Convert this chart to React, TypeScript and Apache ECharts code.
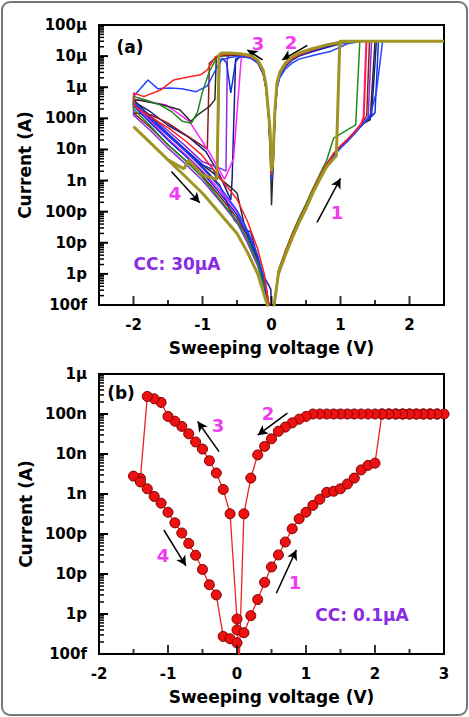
import React, { useEffect, useRef } from "react";
import * as echarts from "echarts";

// ---------- Panel (a): CC = 30 µA, ten I-V sweep cycles ([voltage V, current A]) ----------
const curveNavy: [number, number][] = [
  [0.02, 5e-14], [0.1, 9.5e-13], [0.2, 4e-12], [0.3, 1.45e-11], [0.4, 4.6e-11], [0.5, 1.25e-10], [0.6, 4.1e-10], [0.7, 1.15e-9], [0.8, 2.9e-9], [0.9, 6.5e-9], [1.0, 1.15e-8], [1.1, 1.85e-8], [1.2, 3.2e-8], [1.3, 5.8e-8], [1.45, 1.2e-7], [1.52, 3e-5], [2.5, 3e-5],
  [1.25, 3e-5], [1.0, 2.5e-5], [0.8, 1.9e-5], [0.6, 1.4e-5], [0.4, 1e-5], [0.3, 7.5e-6], [0.2, 4.6e-6], [0.12, 2.3e-6], [0.08, 1e-6], [0.05, 1.3e-7], [0.02, 2.5e-9], [0.0, 1e-9],
  [-0.02, 1.6e-8], [-0.04, 1e-7], [-0.08, 9.5e-7], [-0.12, 2.8e-6], [-0.2, 6.2e-6], [-0.3, 8.8e-6], [-0.45, 9.5e-6], [-0.52, 8e-6], [-0.57, 1.2e-9], [-0.59, 2.4e-10], [-0.75, 1.5e-9], [-0.95, 8.5e-9], [-1.2, 2.5e-8], [-1.5, 6e-8], [-1.75, 1.6e-7], [-2.0, 3.5e-7],
  [-2.0, 3.2e-7], [-1.75, 9e-8], [-1.5, 2.8e-8], [-1.25, 9e-9], [-1.0, 2.8e-9], [-0.75, 7e-10], [-0.54, 5.4e-11], [-0.45, 3.3e-11], [-0.3, 2.2e-11], [-0.15, 1.26e-12], [-0.01, 3.2e-13], [0.0, 6e-14],
];
const curveMaroon: [number, number][] = [
  [0.02, 5e-14], [0.1, 1.1e-12], [0.2, 4.6e-12], [0.3, 1.65e-11], [0.4, 5.2e-11], [0.5, 1.42e-10], [0.6, 4.6e-10], [0.7, 1.3e-9], [0.8, 3.3e-9], [0.9, 7.2e-9], [1.0, 1.28e-8], [1.1, 2.05e-8], [1.2, 3.5e-8], [1.3, 6.5e-8], [1.38, 1.2e-7], [1.42, 3e-5], [2.5, 3e-5],
  [1.2, 3e-5], [1.0, 2.8e-5], [0.8, 2.25e-5], [0.6, 1.7e-5], [0.4, 1.17e-5], [0.3, 8.6e-6], [0.2, 5.4e-6], [0.12, 2.7e-6], [0.08, 1.2e-6], [0.05, 1.5e-7], [0.02, 3e-9], [0.0, 1.4e-9],
  [-0.02, 2e-8], [-0.04, 1.2e-7], [-0.08, 1.05e-6], [-0.12, 3.1e-6], [-0.2, 6.9e-6], [-0.3, 9.7e-6], [-0.45, 1.12e-5], [-0.6, 1.15e-5], [-0.72, 1.1e-5], [-0.8, 9e-6], [-0.9, 6e-6], [-0.93, 1e-8], [-1.0, 1.3e-8], [-1.25, 3e-8], [-1.5, 7e-8], [-1.75, 1.3e-7], [-2.0, 1.5e-7],
  [-1.75, 5e-8], [-1.5, 1.4e-8], [-1.25, 4.5e-9], [-1.0, 1.4e-9], [-0.75, 3.2e-10], [-0.5, 6.3e-11], [-0.35, 1.6e-11], [-0.2, 2.5e-12], [-0.1, 4e-13], [-0.03, 7e-14],
];
const curvePurple: [number, number][] = [
  [0.02, 5e-14], [0.1, 1e-12], [0.2, 4.2e-12], [0.3, 1.5e-11], [0.4, 4.8e-11], [0.5, 1.3e-10], [0.6, 4.2e-10], [0.7, 1.2e-9], [0.8, 3e-9], [0.9, 6.6e-9], [1.0, 1.2e-8], [1.1, 1.9e-8], [1.2, 3.3e-8], [1.3, 6e-8], [1.4, 1e-7], [1.45, 3e-5], [2.5, 3e-5],
  [1.2, 3e-5], [1.0, 2.75e-5], [0.8, 2.25e-5], [0.6, 1.7e-5], [0.4, 1.2e-5], [0.3, 8.9e-6], [0.2, 5.6e-6], [0.12, 2.8e-6], [0.08, 1.26e-6], [0.05, 1.6e-7], [0.02, 3.2e-9], [0.0, 1.6e-9],
  [-0.02, 2e-8], [-0.04, 1.26e-7], [-0.08, 1.1e-6], [-0.12, 3.2e-6], [-0.2, 7e-6], [-0.3, 1e-5], [-0.45, 1.17e-5], [-0.6, 1.15e-5], [-0.64, 9e-6], [-0.66, 2e-9], [-0.75, 2.5e-9], [-1.0, 4e-9], [-1.25, 1.3e-8], [-1.5, 4e-8], [-1.75, 1.2e-7], [-2.0, 2.8e-7],
  [-2.0, 1.26e-7], [-1.75, 4e-8], [-1.5, 1.1e-8], [-1.25, 3.5e-9], [-1.0, 1e-9], [-0.75, 2.2e-10], [-0.5, 4.5e-11], [-0.35, 1e-11], [-0.2, 1.8e-12], [-0.1, 3.2e-13], [-0.03, 7e-14],
];
const curveMagenta: [number, number][] = [
  [0.02, 5e-14], [0.1, 1.15e-12], [0.2, 4.8e-12], [0.3, 1.7e-11], [0.4, 5.3e-11], [0.5, 1.45e-10], [0.6, 4.8e-10], [0.7, 1.35e-9], [0.8, 3.4e-9], [0.9, 7.3e-9], [1.0, 1.3e-8], [1.1, 2.1e-8], [1.2, 3.6e-8], [1.3, 7e-8], [1.33, 1.1e-7], [1.37, 3e-5], [2.5, 3e-5],
  [1.1, 3e-5], [1.0, 2.9e-5], [0.8, 2.35e-5], [0.6, 1.7e-5], [0.4, 1.2e-5], [0.3, 8.8e-6], [0.2, 5.5e-6], [0.12, 2.8e-6], [0.08, 1.25e-6], [0.05, 1.6e-7], [0.02, 3.2e-9], [0.0, 1.6e-9],
  [-0.02, 2e-8], [-0.04, 1.2e-7], [-0.08, 1.1e-6], [-0.12, 3.2e-6], [-0.2, 7e-6], [-0.3, 1e-5], [-0.4, 1.1e-5], [-0.44, 8e-6], [-0.55, 5e-9], [-0.68, 1.1e-9], [-0.9, 8e-9], [-1.19, 8e-8], [-1.53, 2.7e-7], [-1.91, 3.9e-7], [-2.0, 4e-7],
  [-2.0, 2.8e-7], [-1.75, 8e-8], [-1.5, 2.2e-8], [-1.25, 7e-9], [-1.0, 2e-9], [-0.75, 5e-10], [-0.5, 1e-10], [-0.35, 2.2e-11], [-0.2, 3.5e-12], [-0.1, 5e-13], [-0.03, 8e-14],
];
const curveBlack: [number, number][] = [
  [0.02, 6e-14], [0.1, 1.1e-12], [0.2, 4.5e-12], [0.3, 1.6e-11], [0.4, 5e-11], [0.5, 1.4e-10], [0.6, 4.5e-10], [0.7, 1.3e-9], [0.8, 3.2e-9], [0.9, 7e-9], [1.0, 1.26e-8], [1.1, 2e-8], [1.2, 3.5e-8], [1.3, 6.3e-8], [1.43, 9e-8], [1.5, 3e-5], [2.5, 3e-5],
  [1.2, 3e-5], [1.0, 2.65e-5], [0.8, 2.1e-5], [0.6, 1.55e-5], [0.4, 1.1e-5], [0.3, 8e-6], [0.2, 5e-6], [0.12, 2.5e-6], [0.08, 1.1e-6], [0.05, 1.3e-7], [0.02, 2e-9], [0.0, 1.6e-10],
  [-0.01, 2e-9], [-0.04, 1.1e-7], [-0.08, 1e-6], [-0.12, 2.9e-6], [-0.2, 6.6e-6], [-0.3, 9.2e-6], [-0.45, 1.05e-5], [-0.6, 1.05e-5], [-0.72, 1e-5], [-0.8, 9e-6], [-0.82, 4e-7], [-0.9, 2.4e-7], [-1.05, 1.4e-7], [-1.17, 8e-8], [-1.33, 1.9e-7], [-1.6, 2.8e-7], [-1.85, 3.6e-7], [-2.0, 4e-7],
  [-1.75, 1.1e-7], [-1.5, 3.2e-8], [-1.25, 1e-8], [-1.0, 3.2e-9], [-0.84, 1.7e-9], [-0.6, 6.3e-10], [-0.5, 4e-10], [-0.4, 4.4e-11], [-0.3, 1.26e-11], [-0.2, 3.2e-12], [-0.1, 5e-13], [-0.03, 8e-14],
];
const curveBlueB: [number, number][] = [
  [0.02, 5e-14], [0.1, 1.05e-12], [0.2, 4.2e-12], [0.3, 1.5e-11], [0.4, 4.7e-11], [0.5, 1.3e-10], [0.6, 4.2e-10], [0.7, 1.2e-9], [0.8, 3e-9], [0.9, 6.6e-9], [1.0, 1.2e-8], [1.1, 1.9e-8], [1.2, 3.3e-8], [1.3, 6e-8], [1.4, 9e-8], [1.5, 1.5e-7], [1.55, 3e-5], [2.5, 3e-5],
  [1.2, 3e-5], [1.0, 2.6e-5], [0.8, 2e-5], [0.6, 1.5e-5], [0.4, 1.05e-5], [0.3, 7.8e-6], [0.2, 4.8e-6], [0.12, 2.4e-6], [0.08, 1.1e-6], [0.05, 1.4e-7], [0.02, 2.5e-9], [0.0, 1.2e-9],
  [-0.02, 1.8e-8], [-0.04, 1.1e-7], [-0.08, 1e-6], [-0.12, 2.8e-6], [-0.2, 6.4e-6], [-0.3, 9e-6], [-0.45, 1.05e-5], [-0.52, 6.6e-6], [-0.59, 6.6e-7], [-0.65, 6e-6], [-0.71, 8.5e-6], [-0.75, 7e-6], [-0.79, 1.05e-9], [-0.84, 2.2e-9], [-1.0, 3.2e-9], [-1.25, 1e-8], [-1.5, 3.2e-8], [-1.75, 1e-7], [-2.0, 3.2e-7],
  [-2.0, 2.5e-7], [-1.75, 7e-8], [-1.5, 2e-8], [-1.25, 6.3e-9], [-1.0, 1.8e-9], [-0.75, 4e-10], [-0.5, 8e-11], [-0.35, 1.8e-11], [-0.2, 2.8e-12], [-0.1, 4.5e-13], [-0.03, 7e-14],
];
const curveBlueA: [number, number][] = [
  [0.02, 4e-14], [0.1, 9e-13], [0.2, 3.8e-12], [0.3, 1.4e-11], [0.4, 4.3e-11], [0.5, 1.2e-10], [0.6, 3.9e-10], [0.7, 1.1e-9], [0.8, 2.8e-9], [0.9, 6.3e-9], [1.0, 1.1e-8], [1.1, 1.8e-8], [1.2, 3.2e-8], [1.3, 5.6e-8], [1.43, 1.26e-7], [1.52, 7e-7], [1.61, 3e-5], [2.5, 3e-5],
  [1.3, 3e-5], [1.1, 2.5e-5], [0.85, 1.4e-5], [0.6, 1.05e-5], [0.4, 8e-6], [0.3, 6e-6], [0.2, 3.8e-6], [0.12, 2e-6], [0.08, 9e-7], [0.05, 1.2e-7], [0.02, 2e-9], [0.0, 1e-9],
  [-0.02, 1.5e-8], [-0.04, 1e-7], [-0.08, 9e-7], [-0.12, 2.6e-6], [-0.2, 6e-6], [-0.3, 8.5e-6], [-0.45, 1e-5], [-0.6, 9e-6], [-0.72, 7.6e-6], [-0.8, 4e-6], [-0.93, 1.1e-6], [-1.09, 7.2e-7], [-1.3, 9e-7], [-1.48, 9.5e-7], [-1.65, 9e-7], [-1.79, 1.7e-6], [-2.0, 5e-7],
  [-2.0, 3.5e-7], [-1.75, 1e-7], [-1.5, 2.8e-8], [-1.25, 8.9e-9], [-1.0, 2.5e-9], [-0.75, 6.3e-10], [-0.5, 1.1e-10], [-0.35, 2.5e-11], [-0.2, 4e-12], [-0.1, 6.3e-13], [-0.03, 8e-14],
];
const curveGreen: [number, number][] = [
  [0.02, 5e-14], [0.1, 1.3e-12], [0.2, 5.5e-12], [0.3, 2e-11], [0.4, 6.3e-11], [0.5, 1.8e-10], [0.6, 5.6e-10], [0.7, 1.6e-9], [0.8, 4.5e-9], [0.9, 2.3e-8], [1.22, 6.2e-8], [1.28, 3e-5], [2.5, 3e-5],
  [1.15, 3e-5], [1.0, 2.7e-5], [0.8, 2.2e-5], [0.6, 1.65e-5], [0.4, 1.15e-5], [0.3, 8.5e-6], [0.2, 5.4e-6], [0.12, 2.7e-6], [0.08, 1.2e-6], [0.05, 1.5e-7], [0.02, 3e-9], [0.0, 1.5e-9],
  [-0.02, 2e-8], [-0.04, 1.2e-7], [-0.08, 1.1e-6], [-0.12, 3.1e-6], [-0.2, 7e-6], [-0.3, 1e-5], [-0.45, 1.15e-5], [-0.6, 1.2e-5], [-0.72, 1.26e-5], [-0.8, 8.5e-6], [-0.9, 3.2e-6], [-1.0, 7.2e-7], [-1.07, 1.66e-7], [-1.16, 7e-8], [-1.29, 8e-8], [-1.45, 1.66e-7], [-1.62, 2.7e-7], [-1.82, 3.9e-7], [-2.0, 5e-7],
  [-2.0, 2e-7], [-1.75, 5.6e-8], [-1.5, 1.4e-8], [-1.25, 4.5e-9], [-1.0, 1.26e-9], [-0.75, 2.5e-10], [-0.5, 5e-11], [-0.35, 1.26e-11], [-0.2, 2.2e-12], [-0.11, 4e-13], [-0.08, 4e-13], [-0.03, 7e-14],
];
const curveRed: [number, number][] = [
  [0.02, 5e-14], [0.1, 1.2e-12], [0.2, 5e-12], [0.3, 1.8e-11], [0.4, 5.5e-11], [0.5, 1.5e-10], [0.6, 5e-10], [0.7, 1.4e-9], [0.8, 3.5e-9], [0.9, 7.5e-9], [1.0, 1.3e-8], [1.1, 2.1e-8], [1.2, 3.6e-8], [1.3, 6.5e-8], [1.34, 1.1e-7], [1.38, 3e-5], [2.5, 3e-5],
  [1.15, 3e-5], [1.0, 2.7e-5], [0.8, 2.2e-5], [0.6, 1.6e-5], [0.4, 1.1e-5], [0.3, 8.3e-6], [0.2, 5.2e-6], [0.12, 2.6e-6], [0.08, 1.2e-6], [0.05, 1.5e-7], [0.02, 3e-9], [0.0, 1.5e-9],
  [-0.02, 2e-8], [-0.04, 1.2e-7], [-0.08, 1.05e-6], [-0.12, 3e-6], [-0.2, 6.8e-6], [-0.3, 9.5e-6], [-0.45, 1.1e-5], [-0.6, 1.15e-5], [-0.7, 1.1e-5], [-0.81, 9.8e-6], [-0.93, 3.6e-6], [-1.03, 2.5e-6], [-1.17, 2.2e-6], [-1.42, 1.7e-6], [-1.61, 8.1e-7], [-1.85, 5e-7], [-2.0, 6.5e-7],
  [-1.98, 2.4e-7], [-1.75, 1.1e-7], [-1.5, 5e-8], [-1.25, 1.9e-8], [-1.0, 6.3e-9], [-0.75, 1.26e-9], [-0.5, 2.5e-10], [-0.35, 5e-11], [-0.2, 6.3e-12], [-0.1, 9e-13], [-0.03, 8e-14],
];
const curveOlive: [number, number][] = [
  [0.02, 5e-14], [0.1, 1e-12], [0.2, 4e-12], [0.3, 1.4e-11], [0.4, 4.5e-11], [0.5, 1.26e-10], [0.6, 4e-10], [0.7, 1.1e-9], [0.8, 2.8e-9], [0.9, 5e-9], [0.94, 6.3e-9], [0.99, 3e-5], [2.5, 3e-5],
  [1.2, 3e-5], [1.0, 2.8e-5], [0.8, 2.3e-5], [0.6, 1.75e-5], [0.4, 1.26e-5], [0.3, 9.5e-6], [0.2, 6e-6], [0.12, 3e-6], [0.08, 1.4e-6], [0.05, 2e-7], [0.02, 4e-9], [0.0, 2e-9],
  [-0.02, 4e-8], [-0.04, 1.3e-7], [-0.08, 1.2e-6], [-0.12, 3.5e-6], [-0.2, 7.5e-6], [-0.3, 1.05e-5], [-0.45, 1.2e-5], [-0.6, 1.26e-5], [-0.72, 1.26e-5], [-0.76, 1.1e-5],
  [-0.79, 1.1e-9], [-1.0, 1.5e-9], [-1.2, 4.5e-9], [-1.27, 2.4e-9], [-1.5, 4.6e-9], [-1.75, 1.6e-8], [-2.0, 5.4e-8],
  [-1.75, 1.6e-8], [-1.5, 4.6e-9], [-1.25, 1.35e-9], [-1.0, 3.9e-10], [-0.75, 8.9e-11], [-0.5, 2e-11], [-0.35, 5e-12], [-0.2, 1e-12], [-0.1, 1.9e-13], [-0.03, 6e-14],
];

const curvesA = [
  { name: "cycle navy", color: "#1c1c8c", width: 1.5, data: curveNavy },
  { name: "cycle maroon", color: "#8b1c1c", width: 1.5, data: curveMaroon },
  { name: "cycle purple", color: "#8a2be2", width: 1.5, data: curvePurple },
  { name: "cycle magenta", color: "#ff22ff", width: 1.5, data: curveMagenta },
  { name: "cycle black", color: "#2a2a2a", width: 1.5, data: curveBlack },
  { name: "cycle blue 2", color: "#1030e0", width: 1.5, data: curveBlueB },
  { name: "cycle blue", color: "#2244ff", width: 1.5, data: curveBlueA },
  { name: "cycle green", color: "#1f8c1f", width: 1.5, data: curveGreen },
  { name: "cycle red", color: "#ff2020", width: 1.5, data: curveRed },
  { name: "cycle olive", color: "#a09422", width: 3, data: curveOlive },
];

// ---------- Panel (b): CC = 0.1 µA, single cycle ----------
const bVoltage = [
  0.0, 0.1, 0.2, 0.3, 0.4, 0.5, 0.6, 0.7, 0.8, 0.9, 1.0, 1.1, 1.2, 1.3, 1.4, 1.5, 1.6, 1.7, 1.8, 1.9, 2.0, 2.1, 2.2, 2.3, 2.4, 2.5, 2.6, 2.7, 2.8, 2.9, 3.0,
  2.9, 2.8, 2.7, 2.6, 2.5, 2.4, 2.3, 2.2, 2.1, 2.0, 1.9, 1.8, 1.7, 1.6, 1.5, 1.4, 1.3, 1.2, 1.1, 1.0, 0.9, 0.8, 0.7, 0.6, 0.5, 0.4, 0.3, 0.2, 0.1, 0.03,
  0.0, -0.1, -0.2, -0.3, -0.4, -0.5, -0.6, -0.7, -0.8, -0.9, -1.0, -1.1, -1.2, -1.3, -1.4, -1.5,
  -1.4, -1.3, -1.2, -1.1, -1.0, -0.9, -0.8, -0.7, -0.6, -0.5, -0.4, -0.3, -0.2, -0.1, 0.0,
];
const bCurrent = [
  4.0e-13, 3.4e-13, 9.1e-13, 2.3e-12, 6.2e-12, 1.5e-11, 3.0e-11, 6.3e-11, 1.35e-10, 2.4e-10, 3.5e-10, 5.2e-10, 7.4e-10, 1.1e-9, 1.17e-9, 1.35e-9, 1.78e-9, 2.5e-9, 4.0e-9, 5.2e-9, 5.9e-9, 1e-7, 1e-7, 1e-7, 1e-7, 1e-7, 1e-7, 1e-7, 1e-7, 1e-7, 1e-7,
  1e-7, 1e-7, 1e-7, 1e-7, 1e-7, 1e-7, 1e-7, 1e-7, 1e-7, 1e-7, 1e-7, 1e-7, 1e-7, 1e-7, 1e-7, 1e-7, 1e-7, 1e-7, 1e-7, 8.7e-8, 7.4e-8, 6.0e-8, 4.7e-8, 3.7e-8, 2.4e-8, 1.55e-8, 9.5e-9, 2.5e-9, 3.2e-10, 5e-14,
  7.5e-13, 3.2e-10, 1.3e-9, 3.35e-9, 6.8e-9, 1.33e-8, 2.0e-8, 3.2e-8, 4.9e-8, 6.6e-8, 8.7e-8, 1.95e-7, 2.4e-7, 2.75e-7, 2.45e-9, 2.8e-9,
  2.0e-9, 1.35e-9, 8.7e-10, 5.9e-10, 3.5e-10, 1.9e-10, 1.06e-10, 5.8e-11, 2.95e-11, 1.3e-11, 5.4e-12, 3.0e-12, 2.75e-13, 2.4e-13, 1.9e-13,
];

// sweep-direction arrows [V start, I start, V end, I end]
const arrowsA: [number, number, number, number][] = [
  [-0.13, 7.6e-6, -0.35, 1.58e-5],
  [0.52, 2.2e-5, 0.155, 7.6e-6],
  [-1.45, 1.95e-9, -1.04, 1.95e-10],
  [0.66, 4.5e-11, 1.0, 1.17e-9],
];
const arrowsB: [number, number, number, number][] = [
  [0.73, 1.05e-7, 0.3, 2.95e-8],
  [-0.26, 1.15e-8, -0.57, 6.5e-8],
  [-1.06, 1.26e-10, -0.74, 1.6e-11],
  [0.57, 3.3e-12, 0.86, 4e-11],
];

const currentTickLabels: Record<string, string> = {
  "-13": "100f", "-12": "1p", "-11": "10p", "-10": "100p", "-9": "1n",
  "-8": "10n", "-7": "100n", "-6": "1µ", "-5": "10µ", "-4": "100µ",
};
const voltTicksA = [-2, -1, 0, 1, 2];
const voltHalfTicksA = [-1.5, -0.5, 0.5, 1.5];
const voltTicksB = [-1, 0, 1, 2];
const voltHalfTicksB = [-1.5, -0.5, 0.5, 1.5, 2.5];

const FONT = "DejaVu Sans";
const MAG = "#f03cf0";
const PUR = "#8a2be2";

function decades(lo: number, hi: number) {
  const out: number[] = [];
  for (let d = lo; d <= hi; d++) out.push(Number(Math.pow(10, d).toPrecision(3)));
  return out;
}
function minorDecadeTicks(lo: number, hi: number) {
  const out: number[] = [];
  for (let d = lo; d < hi; d++) {
    for (let k = 2; k <= 9; k++) out.push(Number((k * Math.pow(10, d)).toPrecision(3)));
  }
  return out;
}

function txt(text: string, x: number, y: number, fill: string, size: number) {
  return {
    type: "text", x, y, silent: true, z: 100,
    style: { text, fill, font: `bold ${size}px "${FONT}"`, align: "center", verticalAlign: "middle" },
  };
}

function buildOption() {
  const xAxis = (gridIndex: number, min: number, max: number) => ({
    gridIndex, type: "value", min, max, interval: 0.5, position: "bottom",
    axisLine: { show: true, onZero: false, lineStyle: { color: "#000", width: 2 } },
    axisTick: { show: false },
    axisLabel: {
      margin: 12, color: "#000", fontFamily: FONT, fontWeight: "bold", fontSize: 15,
      formatter: (v: number) => (Number.isInteger(v) ? String(v) : ""),
    },
    splitLine: { show: false },
    name: "Sweeping voltage (V)", nameLocation: "middle", nameGap: 34,
    nameTextStyle: { color: "#000", fontFamily: FONT, fontWeight: "bold", fontSize: 17 },
  });
  const yAxis = (gridIndex: number, max: number) => ({
    gridIndex, type: "log", logBase: 10, min: 1e-13, max, position: "left",
    axisLine: { show: true, onZero: false, lineStyle: { color: "#000", width: 2 } },
    axisTick: { show: false },
    axisLabel: {
      margin: 12, color: "#000", fontFamily: FONT, fontWeight: "bold", fontSize: 15,
      formatter: (v: number) => currentTickLabels[String(Math.round(Math.log10(v)))] || "",
    },
    splitLine: { show: false },
    name: "Current (A)", nameLocation: "middle", nameGap: 60,
    nameTextStyle: { color: "#000", fontFamily: FONT, fontWeight: "bold", fontSize: 17 },
  });

  // inward x-axis tick marks, drawn as small bars placed at axis values through the axes' own scales
  const ticks = (axisIdx: number, pts: number[][], size: number[], offset: number[]) => ({
    type: "scatter", xAxisIndex: axisIdx, yAxisIndex: axisIdx, data: pts,
    symbol: "rect", symbolSize: size, symbolOffset: offset,
    itemStyle: { color: "#000" }, clip: false, silent: true, z: 20,
    emphasis: { disabled: true }, tooltip: { show: false },
  });
  const xTicks = (axisIdx: number, major: number[], minor: number[]) => [
    ticks(axisIdx, major.map((v) => [v, 1e-13]), [2, 9], [0, -4.5]),
    ticks(axisIdx, minor.map((v) => [v, 1e-13]), [2, 5], [0, -2.5]),
  ];

  // inward y-axis tick marks via a custom series: [x at the left edge, current value, tick length px]
  const yTickSeries = (axisIdx: number, xEdge: number, lo: number, hi: number) => ({
    type: "custom", xAxisIndex: axisIdx, yAxisIndex: axisIdx, clip: false, silent: true, z: 30,
    data: [
      ...decades(lo, hi).map((v) => [xEdge, v, 8]),
      ...minorDecadeTicks(lo, hi).map((v) => [xEdge, v, 4]),
    ],
    renderItem: (params: any, api: any) => {
      const p = api.coord([api.value(0), api.value(1)]);
      const len = api.value(2);
      return {
        type: "line",
        shape: { x1: p[0] + 1, y1: p[1], x2: p[0] + 1 + len, y2: p[1] },
        style: { stroke: "#000", lineWidth: len > 5 ? 2 : 1.5, fill: null },
      };
    },
  });

  const arrowLine = (arr: [number, number, number, number][]) => ({
    silent: true, animation: false,
    symbol: ["none", "arrow"], symbolSize: [8, 10],
    lineStyle: { color: "#000", width: 1.5, type: "solid" },
    label: { show: false }, emphasis: { disabled: true },
    data: arr.map((a) => [{ coord: [a[0], a[1]] }, { coord: [a[2], a[3]] }]),
  });

  const seriesA = curvesA.map((c, i) => ({
    name: c.name, type: "line", xAxisIndex: 0, yAxisIndex: 0,
    data: c.data, showSymbol: false, symbol: "none", clip: true, silent: true,
    lineStyle: { color: c.color, width: c.width }, z: 2 + i,
    ...(i === curvesA.length - 1 ? { markLine: arrowLine(arrowsA) } : {}),
  }));

  const seriesB = {
    name: "CC 0.1 µA", type: "line", xAxisIndex: 1, yAxisIndex: 1,
    data: bVoltage.map((v, i) => [v, bCurrent[i]]),
    symbol: "circle", symbolSize: 10, showSymbol: true, clip: true, silent: true,
    lineStyle: { color: "#ee2222", width: 1.3 },
    itemStyle: { color: "#ee1111", borderColor: "#7a0000", borderWidth: 1 },
    markLine: arrowLine(arrowsB),
  };

  return {
    animation: false,
    backgroundColor: "#fff",
    grid: [
      { left: 99, top: 25, width: 345, height: 280, show: true, borderColor: "#000", borderWidth: 2, backgroundColor: "transparent" },
      { left: 99, top: 374, width: 345, height: 280, show: true, borderColor: "#000", borderWidth: 2, backgroundColor: "transparent" },
    ],
    xAxis: [xAxis(0, -2.5, 2.5), xAxis(1, -2, 3)],
    yAxis: [yAxis(0, 1e-4), yAxis(1, 1e-6)],
    series: [
      ...seriesA, seriesB,
      ...xTicks(0, voltTicksA, voltHalfTicksA),
      ...xTicks(1, voltTicksB, voltHalfTicksB),
      yTickSeries(0, -2.5, -13, -4),
      yTickSeries(1, -2, -13, -6),
    ],
    graphic: [
      { type: "rect", silent: true, shape: { x: 2, y: 2, width: 465, height: 713, r: 8 }, style: { fill: "none", stroke: "#777", lineWidth: 2 } },
      txt("(a)", 130, 47, "#000", 17),
      txt("3", 258, 43, MAG, 18),
      txt("2", 291, 42, MAG, 18),
      txt("4", 175, 193, MAG, 18),
      txt("1", 337, 212, MAG, 18),
      txt("CC: 30µA", 177, 264, PUR, 17),
      txt("(b)", 121, 393, "#000", 17),
      txt("2", 268, 413, MAG, 18),
      txt("3", 218, 425, MAG, 18),
      txt("4", 163, 555, MAG, 18),
      txt("1", 295, 582, MAG, 18),
      txt("CC: 0.1µA", 362, 615, PUR, 17),
    ],
  };
}

export default function App() {
  const ref = useRef<HTMLDivElement>(null);
  useEffect(() => {
    if (!ref.current) return;
    const chart = echarts.init(ref.current, null, { renderer: "svg" });
    chart.setOption(buildOption() as any);
    return () => chart.dispose();
  }, []);
  return (
    <div
      ref={ref}
      style={{ position: "absolute", left: 0, top: 0, width: 469, height: 717, background: "#fff" }}
    />
  );
}
